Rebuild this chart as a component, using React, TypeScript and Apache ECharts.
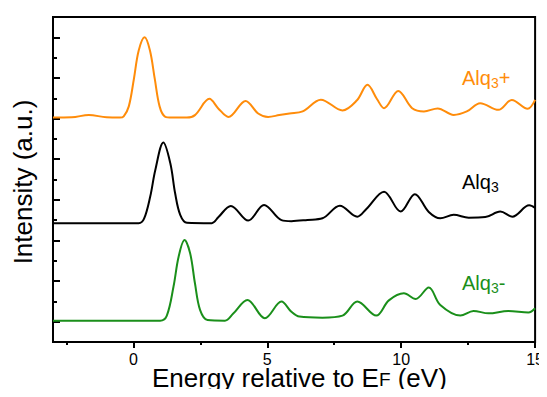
import React, { useEffect, useRef } from "react";
import * as echarts from "echarts";

const FONT = '"Liberation Sans", Arial, sans-serif';

// Tick positions
const xTickValues = [0, 5, 10, 15];
const xMinorTickValues = [-2.5, 2.5, 7.5, 12.5];
const yMajorTickValues = [1, 3, 5, 7, 9, 11, 13, 15];

// Vertical offsets of the stacked spectra (axis units)
const OFFSET_PLUS = 11.05;
const OFFSET_NEUTRAL = 5.85;
const OFFSET_MINUS = 1.05;

// [energy (eV), intensity (a.u.)] relative to each curve's baseline
const alqPlus: [number, number][] = [
  [-3.0, 0], [-2.3, 0.01], [-1.66, 0.13], [-1.0, 0.01], [-0.5, 0],
  [-0.36, 0.06], [-0.17, 0.55], [0.02, 1.9], [0.2, 3.3], [0.42, 3.95],
  [0.62, 3.3], [0.8, 1.9], [0.98, 0.55], [1.18, 0.05], [1.45, 0],
  [2.0, 0], [2.3, 0.12], [2.84, 0.92], [3.17, 0.45], [3.55, 0.03],
  [4.19, 0.82], [4.66, 0.2], [5.03, 0.03], [5.45, 0.12], [5.83, 0.2],
  [6.32, 0.3], [7.0, 0.88], [7.81, 0.35], [8.35, 0.85], [8.74, 1.61],
  [9.1, 0.9], [9.36, 0.46], [9.89, 1.31], [10.41, 0.46], [10.85, 0.3],
  [11.36, 0.45], [11.96, 0.13], [12.45, 0.3], [12.95, 0.71], [13.63, 0.38],
  [14.13, 0.87], [14.72, 0.43], [15.0, 0.87],
];

const alqNeutral: [number, number][] = [
  [-3.0, 0], [-1.0, 0], [0.2, 0], [0.4, 0.22], [0.63, 1.31],
  [0.82, 2.62], [1.12, 3.97], [1.38, 2.95], [1.56, 1.47], [1.75, 0.41],
  [2.0, 0.02], [2.93, 0], [3.17, 0.29], [3.64, 0.85], [4.29, 0.13],
  [4.88, 0.9], [5.53, 0.15], [5.9, 0.1], [6.5, 0.16], [7.06, 0.24],
  [7.71, 0.86], [8.36, 0.32], [8.7, 0.7], [9.36, 1.55], [9.98, 0.57],
  [10.51, 1.43], [11.03, 0.55], [11.46, 0.24], [11.96, 0.41], [12.52, 0.27],
  [13.14, 0.3], [13.7, 0.57], [14.15, 0.32], [14.78, 0.88], [15.0, 0.75],
];

const alqMinus: [number, number][] = [
  [-3.0, 0], [-1.0, 0], [1.0, 0], [1.25, 0.25], [1.5, 1.68],
  [1.69, 3.15], [1.91, 3.97], [2.12, 3.32], [2.3, 1.84], [2.49, 0.53],
  [2.77, 0.03], [3.42, 0], [3.73, 0.35], [4.26, 1.02], [4.91, 0.12],
  [5.53, 0.94], [5.9, 0.44], [6.2, 0.2], [7.06, 0.15], [7.81, 0.25],
  [8.36, 0.94], [9.07, 0.25], [9.54, 1.0], [10.1, 1.35], [10.54, 1.07],
  [11.03, 1.63], [11.46, 0.77], [12.21, 0.25], [12.7, 0.48], [13.26, 0.36],
  [14.0, 0.48], [14.75, 0.4], [15.0, 0.61],
];

const ORANGE = "#ff8c0a";
const BLACK = "#000000";
const GREEN = "#1a8f1a";

const shift = (arr: [number, number][], off: number) =>
  arr.map(([e, v]) => [e, v + off]);

function lineSeries(name: string, data: number[][], color: string) {
  return {
    name,
    type: "line",
    data,
    showSymbol: false,
    smooth: 0.35,
    lineStyle: { color, width: 2 },
    xAxisIndex: 0,
    yAxisIndex: 0,
    z: 3,
  };
}

// Text with a subscript; (x, y) is the left end / vertical centre of the main text
function subLabel(
  main: string,
  sub: string,
  tail: string,
  x: number,
  y: number,
  color: string,
  size: number,
  lineH: number,
  subSize: number,
  subLineH: number
) {
  return {
    type: "text",
    x,
    y,
    style: {
      text: `{m|${main}}{s|${sub}}{m|${tail}}`,
      verticalAlign: "middle",
      align: "left",
      rich: {
        m: { fontSize: size, fontFamily: FONT, fill: color, lineHeight: lineH },
        s: { fontSize: subSize, fontFamily: FONT, fill: color, lineHeight: subLineH, verticalAlign: "bottom" },
      },
    },
  };
}

export default function App() {
  const ref = useRef<HTMLDivElement>(null);

  useEffect(() => {
    if (!ref.current) return;
    const chart = echarts.init(ref.current, undefined, { renderer: "svg" });
    const tickStyle = { color: "#000", width: 2 };
    chart.setOption({
      animation: false,
      backgroundColor: "#fff",
      grid: {
        left: 53,
        right: 10,
        top: 17,
        bottom: 55,
        show: true,
        borderColor: "#000",
        borderWidth: 2,
        backgroundColor: "transparent",
      },
      xAxis: [
        {
          type: "value",
          min: -3,
          max: 15,
          position: "bottom",
          axisLine: { show: true, onZero: false, lineStyle: { color: "#000", width: 2 } },
          axisTick: { show: true, customValues: xTickValues, length: 6, inside: false, lineStyle: tickStyle },
          axisLabel: {
            show: true,
            customValues: xTickValues,
            fontSize: 16,
            lineHeight: 11,
            color: "#000",
            fontFamily: FONT,
            margin: 12,
          },
          splitLine: { show: false },
        },
        {
          type: "value",
          min: -3,
          max: 15,
          position: "bottom",
          axisLine: { show: false, onZero: false },
          axisTick: { show: true, customValues: xMinorTickValues, length: 3, inside: false, lineStyle: tickStyle },
          axisLabel: { show: false },
          splitLine: { show: false },
        },
      ],
      yAxis: [
        {
          type: "value",
          min: 0,
          max: 16,
          interval: 1,
          position: "left",
          axisLine: { show: true, onZero: false, lineStyle: { color: "#000", width: 2 } },
          axisTick: { show: true, inside: true, length: 4, lineStyle: tickStyle },
          axisLabel: { show: false },
          splitLine: { show: false },
        },
        {
          type: "value",
          min: 0,
          max: 16,
          position: "left",
          offset: 0,
          axisLine: { show: false, onZero: false },
          axisTick: { show: true, inside: true, length: 7, customValues: yMajorTickValues, lineStyle: tickStyle },
          axisLabel: { show: false },
          splitLine: { show: false },
        },
      ],
      series: [
        lineSeries("Alq3+", shift(alqPlus, OFFSET_PLUS), ORANGE),
        lineSeries("Alq3", shift(alqNeutral, OFFSET_NEUTRAL), BLACK),
        lineSeries("Alq3-", shift(alqMinus, OFFSET_MINUS), GREEN),
      ],
      graphic: [
        subLabel("Alq", "3", "+", 462, 78, ORANGE, 20, 23, 14, 14),
        subLabel("Alq", "3", "", 462, 182, BLACK, 20, 23, 14, 14),
        subLabel("Alq", "3", "-", 462, 283, GREEN, 20, 23, 14, 14),
        subLabel("Energy relative to E", "F", " (eV)", 152, 378, "#000", 26, 22, 19, 8),
        {
          type: "text",
          x: 22.5,
          y: 182,
          rotation: Math.PI / 2,
          style: {
            text: "Intensity (a.u.)",
            fontSize: 26,
            fontFamily: FONT,
            fill: "#000",
            align: "center",
            verticalAlign: "middle",
          },
        },
      ],
    });
    return () => chart.dispose();
  }, []);

  return <div ref={ref} style={{ width: 547, height: 397, margin: -8 }} />;
}
